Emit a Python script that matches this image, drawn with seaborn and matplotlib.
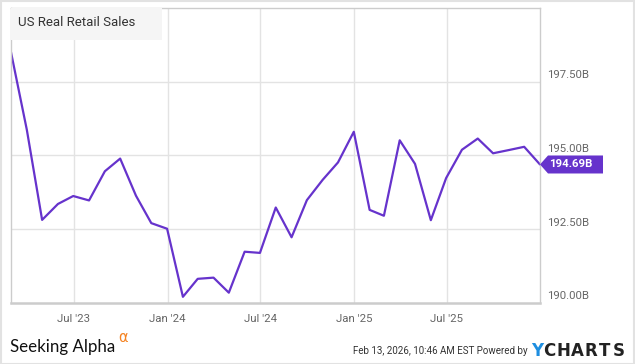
import pandas as pd
import matplotlib.pyplot as plt
import matplotlib.dates as mdates
import matplotlib.transforms as mtransforms
from matplotlib.patches import Rectangle, Polygon
import seaborn as sns

# monthly data, Feb 2023 .. Dec 2025 (billions)
start_month = "2023-02-28"
n_months = 35
sales = [198.50, 195.87, 192.81, 193.35, 193.62, 193.47, 194.46, 194.89, 193.63, 192.70, 192.51,
         190.20, 190.81, 190.85, 190.34, 191.73, 191.69, 193.23, 192.22, 193.48, 194.17, 194.76, 195.80,
         193.15, 192.95, 195.51, 194.71, 192.80, 194.23, 195.19, 195.57, 195.07, 195.18, 195.29, 194.69]

x_ticks = ["2023-07-01", "2024-01-01", "2024-07-01", "2025-01-01", "2025-07-01"]
x_tick_labels = ["Jul '23", "Jan '24", "Jul '24", "Jan '25", "Jul '25"]
y_ticks = [190.0, 192.5, 195.0, 197.5]
y_tick_labels = ["190.00B", "192.50B", "195.00B", "197.50B"]
last_label = "194.69B"
title = "US Real Retail Sales"

df = pd.DataFrame({"date": pd.date_range(start_month, periods=n_months, freq="ME"),
                   "sales": sales})

purple = "#6633cc"
grid_c = "#e3e3e3"

sns.set_style("white")
plt.rcParams["font.family"] = ["Roboto", "DejaVu Sans"]

W, H = 635, 364
fig = plt.figure(figsize=(W / 100, H / 100), dpi=100)
# axes box in pixels: x 11..540, y 8..302.7 (from top)
ax = fig.add_axes([11 / W, (H - 302.7) / H, (540 - 11) / W, (302.7 - 8) / H])

sns.lineplot(data=df, x="date", y="sales", ax=ax, color=purple, linewidth=1.6)

ax.set_xlim(df["date"].iloc[0], df["date"].iloc[-1])
ax.set_ylim(190, 200)
ax.set_xlabel("")
ax.set_ylabel("")

# grid
for d in x_ticks:
    ax.axvline(pd.Timestamp(d), color=grid_c, lw=1, zorder=0)
for v in y_ticks[1:]:
    ax.axhline(v, color=grid_c, lw=1, zorder=0)

ax.set_xticks(pd.to_datetime(x_ticks), labels=x_tick_labels)
ax.tick_params(axis="x", length=0, pad=8, labelsize=8.2, labelcolor="#666666")
ax.set_yticks([])

for s in ["top", "right", "left"]:
    ax.spines[s].set_color("#cccccc")
    ax.spines[s].set_linewidth(1)
ax.spines["bottom"].set_color("#cccccc")
ax.spines["bottom"].set_linewidth(1.8)

# y labels on the right, sitting just above each gridline
ytrans = mtransforms.offset_copy(mtransforms.blended_transform_factory(ax.transAxes, ax.transData),
                                 fig=fig, x=7, y=1.5, units="dots")
for v, lab in zip(y_ticks, y_tick_labels):
    ax.text(1.0, v, lab, transform=ytrans, ha="left", va="bottom",
            fontsize=8.2, color="#666666")

# title box
fig.patches.append(Rectangle((11, H - 39.7), 151, 31.7, transform=None,
                             facecolor="#f5f5f5", edgecolor="none", zorder=3))
fig.text(18 / W, (H - 22.5) / H, title, fontsize=9.5, color="#333333", va="center", zorder=4)

# last value flag
fig.canvas.draw()
px, py = ax.transData.transform((mdates.date2num(df["date"].iloc[-1]), df["sales"].iloc[-1]))
hh = 9
flag = Polygon([(px, py), (px + 8, py + hh), (px + 63, py + hh), (px + 63, py - hh), (px + 8, py - hh)],
               closed=True, transform=None, facecolor=purple, edgecolor="none", zorder=5)
fig.patches.append(flag)
fig.text((px + 9.5) / W, py / H, last_label, color="white", fontsize=8.2, fontweight="bold",
         va="center", ha="left", zorder=6)

# footer
fig.text(10 / W, (H - 347) / H, "Seeking Alpha", family=["Lato", "DejaVu Sans"], fontsize=12.2,
         color="#111111", va="center")
fig.text(118.5 / W, (H - 338) / H, "\u03b1", family=["DejaVu Sans"], fontsize=10.5,
         color="#f58220", va="center")
fig.text(527.5 / W, (H - 350.5) / H, "Feb 13, 2026, 10:46 AM EST Powered by", fontsize=7,
         color="#333333", va="center", ha="right")
fig.text(531 / W, (H - 350.5) / H, "Y", family=["DejaVu Sans"], fontweight="bold", fontsize=12,
         color="#1e8ee0", va="center")
for i, ch in enumerate("CHARTS"):
    fig.text((543 + i * 14.0) / W, (H - 350.5) / H, ch, family=["DejaVu Sans"], fontweight="bold",
             fontsize=12, color="#222222", va="center")

# outer frame
fig.patches.append(Rectangle((0.5, 0.5), W - 1.5, H - 1.5, transform=None, facecolor="none",
                             edgecolor="#e2e2e2", lw=1.5, zorder=0))

fig.savefig("out.png", dpi=100)
